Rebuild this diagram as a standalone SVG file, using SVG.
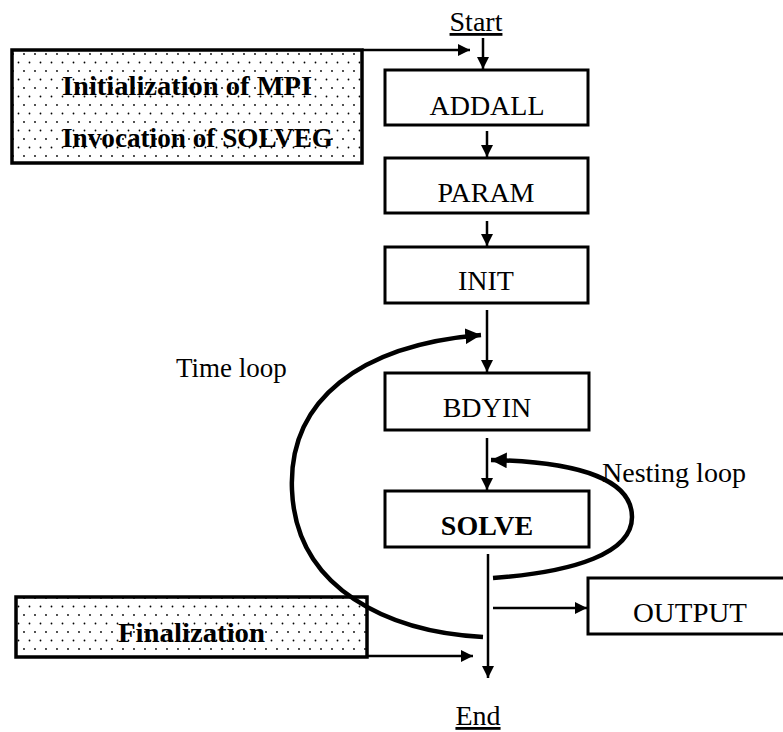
<svg xmlns="http://www.w3.org/2000/svg" width="783" height="732" viewBox="0 0 783 732">
<defs>
<pattern id="dots" width="11" height="17" patternUnits="userSpaceOnUse">
<rect width="11" height="17" fill="#fff"/>
<circle cx="2" cy="3" r="0.9" fill="#000"/>
<circle cx="7.5" cy="11.5" r="0.9" fill="#000"/>
</pattern>
<marker id="ah" viewBox="0 0 10 10" refX="10" refY="5" markerWidth="5" markerHeight="5" markerUnits="strokeWidth" orient="auto">
<path d="M0,0 L10,5 L0,10 Z" fill="#000"/>
</marker>
<marker id="ahb" viewBox="0 0 10 10" refX="10" refY="5" markerWidth="3.5" markerHeight="3.5" markerUnits="strokeWidth" orient="auto">
<path d="M0,0 L10,5 L0,10 Z" fill="#000"/>
</marker>
</defs>
<style>
text{font-family:"Liberation Serif","Times New Roman",serif;fill:#000}
.box{fill:#fff;stroke:#000;stroke-width:3}
.shade{fill:url(#dots);stroke:#000;stroke-width:3.5}
.lbl{font-size:28px;text-anchor:middle}
.bold{font-weight:bold}
.ln{fill:none;stroke:#000;stroke-width:2.5}
.loop{fill:none;stroke:#000;stroke-width:4.5}
</style>
<g id="start"><text x="476" y="31" class="lbl" font-size="27" text-decoration="underline">Start</text></g>
<g id="init-mpi"><rect x="12" y="50" width="350" height="113" class="shade"/>
<text x="62" y="95" font-size="28" class="bold" textLength="250" lengthAdjust="spacingAndGlyphs">Initialization of MPI</text>
<text x="62" y="147" font-size="28" class="bold" textLength="271" lengthAdjust="spacingAndGlyphs">Invocation of SOLVEG</text></g>
<g id="addall"><rect x="385" y="70" width="203" height="55" class="box"/><text x="487" y="115" class="lbl">ADDALL</text></g>
<g id="param"><rect x="385" y="158" width="203" height="55" class="box"/><text x="486" y="202" class="lbl">PARAM</text></g>
<g id="init"><rect x="385" y="247" width="203" height="56" class="box"/><text x="486" y="290" class="lbl">INIT</text></g>
<g id="bdyin"><rect x="385" y="373" width="204" height="57" class="box"/><text x="487" y="417" class="lbl">BDYIN</text></g>
<g id="solve"><rect x="385" y="491" width="204" height="56" class="box"/><text x="487" y="535" class="lbl bold">SOLVE</text></g>
<g id="output"><rect x="588" y="578" width="210" height="56" class="box"/><text x="690" y="622" class="lbl" textLength="114" lengthAdjust="spacingAndGlyphs">OUTPUT</text></g>
<g id="finalization"><rect x="16" y="597" width="351" height="60" class="shade"/>
<text x="118" y="642" font-size="28" class="bold" textLength="147" lengthAdjust="spacingAndGlyphs">Finalization</text></g>
<g id="end"><text x="478" y="725" class="lbl" text-decoration="underline">End</text></g>
<g id="loop-labels">
<text x="176" y="377" font-size="27">Time loop</text>
<text x="602" y="482" font-size="28">Nesting loop</text>
</g>
<g id="connectors">
<path class="ln" d="M362,50 H470" marker-end="url(#ah)"/>
<path class="ln" d="M483,38 V69" marker-end="url(#ah)"/>
<path class="ln" d="M487,131 V157" marker-end="url(#ah)"/>
<path class="ln" d="M487,221 V246" marker-end="url(#ah)"/>
<path class="ln" d="M487,310 V372" marker-end="url(#ah)"/>
<path class="ln" d="M487,438 V490" marker-end="url(#ah)"/>
<path class="ln" d="M488,554 V678" marker-end="url(#ah)"/>
<path class="ln" d="M493,608 H587" marker-end="url(#ah)"/>
<path class="ln" d="M367,656 H473" marker-end="url(#ah)"/>
<path class="loop" d="M483,637 C390,632 296,590 292,490 C288,400 360,345 481,335" marker-end="url(#ahb)"/>
<path class="loop" d="M493,578 C575,572 632,553 632,517 C632,480 580,462 491,460" marker-end="url(#ahb)"/>
</g>
</svg>
